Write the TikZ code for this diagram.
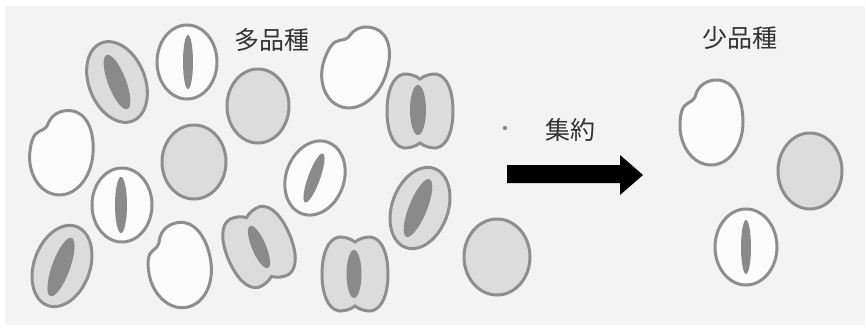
\documentclass[tikz,border=0pt]{standalone}
\usepackage{fontspec}
\newfontfamily\jpfont{Noto Sans CJK JP}
\definecolor{panel}{HTML}{F3F3F3}
\definecolor{rim}{HTML}{8E8E8E}
\definecolor{paleseed}{HTML}{FBFBFB}
\definecolor{seedfill}{HTML}{DCDCDC}
\definecolor{slitfill}{HTML}{8A8A8A}
\definecolor{ink}{HTML}{333333}
\tikzset{
  seed/.style={draw=rim, line width=3pt},
  plain/.style={seed, fill=paleseed},
  tinted/.style={seed, fill=seedfill},
  slit/.style={fill=slitfill},
  label/.style={font=\jpfont\fontsize{25}{25}\selectfont, text=ink, inner sep=0pt},
  bean/.pic={
    \draw[plain] (6,-42) .. controls (22,-42) and (32,-24) .. (32,0)
      .. controls (32,24) and (18,43) .. (0,43)
      .. controls (-18,43) and (-31,24) .. (-31,4)
      .. controls (-31,-8) and (-29,-16) .. (-23,-19)
      .. controls (-19,-21) and (-16,-23) .. (-15,-28)
      .. controls (-12,-37) and (-4,-42) .. (6,-42) -- cycle;
  },
  twolobe/.pic={
    \draw[tinted] (0,-32) .. controls (5,-36) and (11,-37) .. (16,-37)
      .. controls (28,-35) and (33,-18) .. (33,0)
      .. controls (33,18) and (28,35) .. (16,37)
      .. controls (11,37) and (5,36) .. (0,32)
      .. controls (-5,36) and (-11,37) .. (-16,37)
      .. controls (-28,35) and (-33,18) .. (-33,0)
      .. controls (-33,-18) and (-28,-35) .. (-16,-37)
      .. controls (-11,-37) and (-5,-36) .. (0,-32) -- cycle;
  },
}
\begin{document}
\begin{tikzpicture}[x=1pt,y=-1pt]
  % page and light panel
  \fill[white] (0,0) rectangle (865,327);
  \fill[panel] (5,6) rectangle (865,325);
  \useasboundingbox (0,0) rectangle (865,327);

  % ---- many varieties ----
  % tilted, tinted, with slit
  \draw[tinted, rotate around={22:(117,82)}] (117,82) ellipse [x radius=28, y radius=42];
  \fill[slit, rotate around={21:(117,82)}] (117,82) ellipse [x radius=9, y radius=29];
  \draw[tinted, rotate around={-20:(62,266)}] (62,266) ellipse [x radius=28, y radius=42];
  \fill[slit, rotate around={-20:(61,267)}] (61,267) ellipse [x radius=9, y radius=31];
  \draw[tinted, rotate around={-20:(420,208)}] (420,208) ellipse [x radius=28, y radius=42];
  \fill[slit, rotate around={-22:(418,208)}] (418,208) ellipse [x radius=9, y radius=31];

  % pale ovals with slit
  \draw[plain] (187,62) ellipse [x radius=30, y radius=37];
  \fill[slit] (188,62) ellipse [x radius=5, y radius=27];
  \draw[plain] (122,205) ellipse [x radius=30, y radius=37];
  \fill[slit] (121,205) ellipse [x radius=6, y radius=28];
  \draw[plain, rotate around={-20:(315,178)}] (315,178) ellipse [x radius=29, y radius=38];
  \fill[slit, rotate around={-20:(314,178)}] (314,178) ellipse [x radius=6, y radius=26];

  % round tinted seeds
  \draw[tinted] (258,106) ellipse [x radius=31, y radius=37];
  \draw[tinted] (194,162) ellipse [x radius=32, y radius=37];
  \draw[tinted] (497,257) ellipse [x radius=33, y radius=38];

  % kidney-shaped pale seeds
  \pic[rotate=-5] at (61,152) {bean};
  \pic[rotate=10] at (179,265) {bean};
  \pic[rotate=-20] at (355,66) {bean};

  % two-lobed seeds with slit
  \pic at (420,111) {twolobe};
  \fill[slit] (418,110) ellipse [x radius=8, y radius=25];
  \pic[rotate=23] at (259,247) {twolobe};
  \fill[slit, rotate around={23:(259,247)}] (259,247) ellipse [x radius=7, y radius=23];
  \pic at (355,274) {twolobe};
  \fill[slit] (354,274) ellipse [x radius=7.5, y radius=24];

  \node[label] (many) at (272,40) {多品種};

  % ---- consolidation arrow ----
  \fill[slitfill] (505,128) circle (2.2);
  \node[label] (consol) at (570,130) {集約};
  \coordinate (arrowtail) at (507,174);
  \coordinate (arrowtip) at (643,175);
  \fill[black] (arrowtail) ++(0,-9) -- (620,165) -- (620,155) -- (arrowtip)
     -- (620,195) -- (620,183) -- (507,183) -- cycle;

  % ---- few varieties ----
  \node[label] (few) at (740,38) {少品種};
  \pic at (711,122) {bean};
  \draw[tinted] (810,171) ellipse [x radius=32, y radius=38];
  \draw[plain] (746,247) ellipse [x radius=31, y radius=38];
  \fill[slit] (746,247) ellipse [x radius=5, y radius=27];
\end{tikzpicture}
\end{document}
